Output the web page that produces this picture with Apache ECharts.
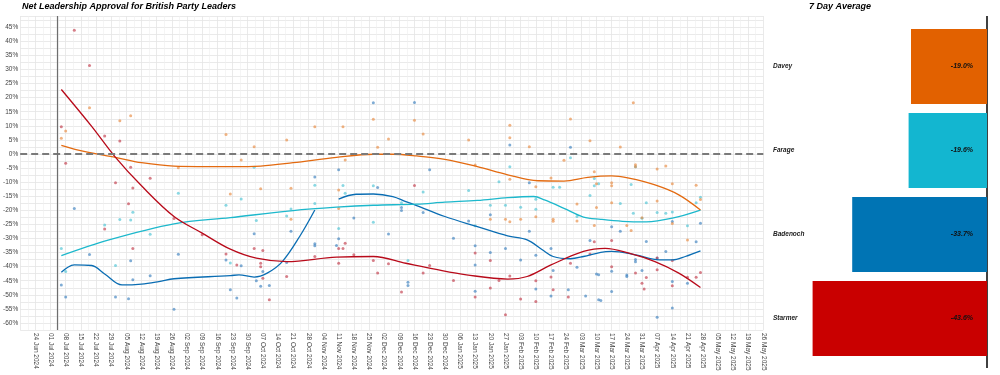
<!DOCTYPE html>
<html>
<head>
<meta charset="utf-8">
<script src="https://cdn.jsdelivr.net/npm/echarts@6/dist/echarts.min.js"></script>
<style>
html,body{margin:0;padding:0;background:#fff;}
#chart{width:1000px;height:375px;}
</style>
</head>
<body>
<div id="chart"></div>
<script>
// ---------------- DATA ----------------
const leaders = ['Davey', 'Farage', 'Badenoch', 'Starmer'];
const sevenDayAverage = [-19.0, -19.6, -33.7, -43.6];

const starmerPolls = [
['2024-07-06',9.7],['2024-07-08',-3.3],['2024-07-12',43.9],['2024-07-19',31.4],['2024-07-26',6.4],['2024-07-26',-26.6],
['2024-07-31',-10.2],['2024-08-02',4.6],['2024-08-06',-17.7],['2024-08-07',-4.7],['2024-08-08',-12.1],['2024-08-08',-33.6],
['2024-08-16',-8.6],['2024-08-27',-22.9],['2024-09-09',-28.7],['2024-09-20',-35.5],['2024-09-25',-39.4],['2024-10-03',-33.6],
['2024-10-07',-34.3],['2024-10-06',-38.8],['2024-10-06',-40.0],['2024-10-07',-44.1],['2024-10-10',-51.8],['2024-10-18',-43.5],
['2024-10-31',-36.4],['2024-11-11',-33.6],['2024-11-13',-33.6],['2024-11-14',-31.7],['2024-11-11',-38.8],['2024-11-18',-35.8],
['2024-11-27',-37.8],['2024-11-29',-42.3],['2024-12-04',-39.0],['2024-12-10',-49.0],['2024-12-16',-11.2],['2024-12-20',-42.3],
['2024-12-23',-39.6],['2025-01-03',-44.9],['2025-01-13',-35.2],['2025-01-13',-50.8],['2025-01-20',-37.8],['2025-01-20',-47.6],
['2025-01-24',-44.9],['2025-01-27',-57.1],['2025-01-29',-43.3],['2025-02-03',-51.5],['2025-02-10',-45.0],['2025-02-10',-52.4],
['2025-02-17',-43.7],['2025-02-18',-48.2],['2025-02-25',-50.8],['2025-02-26',-38.8],['2025-03-07',-35.5],['2025-03-09',-31.2],
['2025-03-17',-30.7],['2025-03-17',-40.0],['2025-03-28',-42.3],['2025-03-31',-45.9],['2025-04-01',-47.9],['2025-04-02',-43.9],
['2025-04-07',-36.9],['2025-04-07',-41.1],['2025-04-14',-37.8],['2025-04-14',-46.8],['2025-04-21',-43.8],['2025-04-25',-43.8],
['2025-04-27',-42.1]
];

const daveyPolls = [
['2024-07-06',5.6],['2024-07-08',8.2],['2024-07-19',16.4],['2024-08-02',11.8],['2024-08-07',13.6],['2024-08-29',-4.9],
['2024-09-20',6.9],['2024-09-22',-14.2],['2024-09-27',-2.1],['2024-10-03',2.6],['2024-10-06',-12.3],['2024-10-18',5.0],
['2024-10-20',-12.2],['2024-10-20',-23.2],['2024-10-31',9.7],['2024-11-11',-12.8],['2024-11-11',-19.4],['2024-11-13',9.7],
['2024-11-14',-2.1],['2024-11-27',12.3],['2024-11-29',2.4],['2024-12-04',5.3],['2024-12-16',12.0],['2024-12-20',7.1],
['2025-01-10',5.0],['2025-01-13',-3.9],['2025-01-20',-23.2],['2025-01-27',-23.2],['2025-01-29',10.2],['2025-01-29',5.8],
['2025-01-29',-9.0],['2025-01-29',-24.1],['2025-02-03',-23.2],['2025-02-07',2.6],['2025-02-10',-11.6],['2025-02-10',-22.3],
['2025-02-17',-8.5],['2025-02-18',-23.2],['2025-02-18',-23.9],['2025-02-23',-2.2],['2025-02-26',12.4],['2025-03-01',-17.8],
['2025-03-01',-23.8],['2025-03-07',4.7],['2025-03-09',-6.3],['2025-03-09',-25.4],['2025-03-10',-10.6],['2025-03-10',-19.0],
['2025-03-17',-10.2],['2025-03-17',-11.3],['2025-03-17',-17.3],['2025-03-21',2.5],['2025-03-24',-25.4],['2025-03-26',-27.2],
['2025-03-27',18.2],['2025-03-28',-4.5],['2025-03-28',-3.8],['2025-03-31',-22.6],['2025-04-07',-5.3],['2025-04-07',-16.7],
['2025-04-11',-4.3],['2025-04-14',-10.6],['2025-04-14',-24.7],['2025-04-21',-30.5],['2025-04-25',-11.1],['2025-04-27',-16.2]
];

const faragePolls = [
['2024-07-06',-33.6],['2024-07-08',-41.7],['2024-07-26',-25.2],['2024-07-31',-39.6],['2024-08-02',-23.3],['2024-08-07',-23.4],
['2024-08-08',-20.7],['2024-08-16',-28.5],['2024-08-29',-13.9],['2024-09-20',-18.2],['2024-09-22',-38.7],['2024-09-27',-16.0],
['2024-10-03',-4.7],['2024-10-04',-23.6],['2024-10-18',-22.0],['2024-10-20',-19.5],['2024-10-31',-11.1],['2024-10-31',-17.6],
['2024-11-11',-26.5],['2024-11-13',-11.2],['2024-11-14',-13.9],['2024-11-27',-11.3],['2024-11-27',-24.2],['2024-12-10',-17.3],
['2024-12-13',-37.8],['2024-12-20',-13.5],['2025-01-10',-13.0],['2025-01-13',-25.5],['2025-01-20',-18.2],['2025-01-24',-9.9],
['2025-01-27',-18.2],['2025-01-29',-4.5],['2025-02-03',-18.9],['2025-02-10',-16.1],['2025-02-10',-19.6],['2025-02-18',-11.8],
['2025-02-21',-11.8],['2025-02-26',-1.3],['2025-03-01',-22.2],['2025-03-07',-14.7],['2025-03-09',-8.7],['2025-03-09',-11.3],
['2025-03-11',-10.6],['2025-03-21',-17.6],['2025-03-26',-10.8],['2025-03-27',-21.0],['2025-03-28',-4.5],['2025-03-31',-22.8],
['2025-04-02',-17.3],['2025-04-07',-20.8],['2025-04-11',-21.0],['2025-04-14',-20.6],['2025-04-21',-25.5],['2025-04-25',-17.3],
['2025-04-27',-15.4]
];

const badenochPolls = [
['2024-07-06',-46.5],['2024-07-08',-50.8],['2024-07-12',-19.4],['2024-07-19',-35.7],['2024-07-31',-50.8],['2024-08-06',-51.4],
['2024-08-07',-37.9],['2024-08-08',-44.7],['2024-08-16',-43.2],['2024-08-27',-55.1],['2024-08-29',-35.6],['2024-09-20',-37.6],
['2024-09-22',-48.2],['2024-09-25',-51.1],['2024-09-27',-39.7],['2024-10-03',-28.3],['2024-10-04',-45.0],['2024-10-06',-47.0],
['2024-10-07',-41.7],['2024-10-10',-46.7],['2024-10-18',-38.5],['2024-10-20',-27.4],['2024-10-31',-8.2],['2024-10-31',-31.9],
['2024-10-31',-32.6],['2024-11-10',-32.5],['2024-11-11',-5.6],['2024-11-11',-30.1],['2024-11-18',-22.7],['2024-11-27',18.2],
['2024-11-29',-11.9],['2024-12-04',-28.4],['2024-12-10',-19.0],['2024-12-10',-20.1],['2024-12-13',-45.5],['2024-12-13',-46.7],
['2024-12-16',18.3],['2024-12-20',-20.8],['2024-12-23',-5.6],['2025-01-03',-29.9],['2025-01-10',-23.8],['2025-01-13',-32.6],
['2025-01-13',-39.4],['2025-01-13',-48.7],['2025-01-20',-21.6],['2025-01-20',-35.0],['2025-01-27',-33.6],['2025-01-29',3.2],
['2025-02-03',-37.6],['2025-02-07',-10.2],['2025-02-07',-27.4],['2025-02-10',-36.0],['2025-02-10',-47.9],['2025-02-17',-33.6],
['2025-02-17',-50.4],['2025-02-18',-41.4],['2025-02-25',-48.2],['2025-02-26',2.4],['2025-03-01',-40.2],['2025-03-05',-50.4],
['2025-03-07',-30.7],['2025-03-10',-42.6],['2025-03-11',-42.9],['2025-03-11',-51.8],['2025-03-12',-52.0],['2025-03-17',-25.8],
['2025-03-17',-41.6],['2025-03-17',-48.8],['2025-03-21',-27.4],['2025-03-24',-43.0],['2025-03-24',-43.5],['2025-03-28',-38.3],
['2025-03-28',-37.5],['2025-03-31',-41.4],['2025-04-02',-31.1],['2025-04-07',-36.9],['2025-04-07',-58.0],['2025-04-11',-34.6],
['2025-04-14',-24.0],['2025-04-14',-45.3],['2025-04-14',-54.7],['2025-04-21',-45.9],['2025-04-25',-31.2],['2025-04-27',-24.6]
];

const starmerTrend = [
['2024-07-06',22.9],['2024-07-20',9.8],['2024-07-31',-1.2],['2024-08-12',-11.3],['2024-08-27',-22.2],['2024-09-09',-28.1],
['2024-09-22',-33.8],['2024-10-04',-37.0],['2024-10-18',-38.2],['2024-11-10',-36.6],['2024-11-27',-36.4],['2024-12-12',-38.8],
['2024-12-26',-41.0],['2025-01-09',-42.9],['2025-01-28',-44.4],['2025-02-06',-43.5],['2025-02-17',-39.4],['2025-03-04',-34.6],
['2025-03-14',-33.5],['2025-03-25',-35.2],['2025-04-06',-38.2],['2025-04-17',-42.3],['2025-04-27',-47.4]
];
const daveyTrend = [
['2024-07-06',3.1],['2024-07-17',0.8],['2024-07-31',-1.2],['2024-08-12',-3.1],['2024-08-27',-4.3],['2024-09-22',-4.5],
['2024-10-06',-4.3],['2024-10-21',-3.1],['2024-11-10',-1.2],['2024-11-27',-0.1],['2024-12-06',-0.1],['2024-12-17',-0.7],
['2024-12-30',-1.9],['2025-01-14',-4.5],['2025-01-28',-7.4],['2025-02-11',-9.5],['2025-02-23',-9.6],['2025-03-06',-8.3],
['2025-03-17',-7.8],['2025-03-25',-8.6],['2025-04-06',-11.0],['2025-04-17',-14.5],['2025-04-27',-19.9]
];
const farageTrend = [
['2024-07-06',-36.1],['2024-07-28',-30.5],['2024-08-27',-24.8],['2024-09-22',-22.6],['2024-10-21',-20.1],['2024-11-10',-18.9],
['2024-11-27',-18.2],['2024-12-17',-17.8],['2024-12-30',-17.1],['2025-01-14',-16.5],['2025-01-28',-15.5],['2025-02-09',-15.1],
['2025-02-14',-16.3],['2025-02-23',-19.3],['2025-03-04',-22.4],['2025-03-12',-23.2],['2025-03-22',-23.9],['2025-04-02',-24.1],
['2025-04-14',-22.8],['2025-04-27',-19.9]
];
const badenochTrend = [
['2024-07-06',-42.0],['2024-07-09',-40.2],['2024-07-12',-39.4],['2024-07-20',-39.6],['2024-07-26',-42.6],['2024-08-03',-46.5],
['2024-08-12',-46.2],['2024-08-20',-45.3],['2024-08-27',-44.3],['2024-09-22',-43.2],['2024-09-26',-42.9],['2024-10-03',-43.7],
['2024-10-09',-42.3],['2024-10-16',-38.2],['2024-10-24',-29.3],['2024-10-31',-19.9],['2024-11-05',null],
['2024-11-11',-16.0],['2024-11-19',-14.3],['2024-11-27',-14.2],['2024-12-06',-15.1],['2024-12-12',-16.9],['2024-12-17',-18.3],
['2024-12-30',-22.2],['2025-01-14',-25.8],['2025-01-28',-29.1],['2025-02-06',-30.5],['2025-02-13',-34.0],['2025-02-18',-36.4],
['2025-02-26',-37.2],['2025-03-04',-36.4],['2025-03-12',-34.9],['2025-03-17',-34.6],['2025-03-28',-35.8],['2025-04-08',-37.6],
['2025-04-14',-37.6],['2025-04-20',-36.4],['2025-04-27',-34.4]
];

const electionDate = '2024-07-04';
const axisStart = '2024-06-17';
const axisEnd = '2025-05-26';
const monthNames = ['Jan','Feb','Mar','Apr','May','Jun','Jul','Aug','Sep','Oct','Nov','Dec'];

// ---------------- HELPERS ----------------
const DAY = 86400000;
const startMs = Date.parse(axisStart + 'T00:00:00Z');
function dayIdx(s) { return (Date.parse(s + 'T00:00:00Z') - startMs) / DAY; }
function toXY(arr) { return arr.map(p => [dayIdx(p[0]), p[1] === null ? '-' : p[1]]); }
function fmtDay(v) {
  const d = new Date(startMs + v * DAY);
  return String(d.getUTCDate()).padStart(2, '0') + ' ' + monthNames[d.getUTCMonth()] + ' ' + d.getUTCFullYear();
}

const colors = {
  Starmer: '#B80A1A',
  Davey: '#E36A10',
  Farage: '#1DB8CC',
  Badenoch: '#0A6DB3'
};
const barColors = ['#E26100', '#13B6D0', '#0074B4', '#C90000'];
const dotColors = {
  Starmer: '#C23B4A',
  Davey: '#E88A40',
  Farage: '#4CC3D4',
  Badenoch: '#3A7FBF'
};

const FONT = '"Liberation Sans", Arial, sans-serif';

function scatter(name, data, extra) {
  return Object.assign({
    type: 'scatter', name: name, xAxisIndex: 0, yAxisIndex: 0,
    data: toXY(data), symbolSize: 3, silent: true,
    itemStyle: { color: dotColors[name], opacity: 0.65 }, z: 2
  }, extra || {});
}
function trend(name, data) {
  return {
    type: 'line', name: name + ' trend', xAxisIndex: 0, yAxisIndex: 0,
    data: toXY(data), smooth: 0.35, showSymbol: false, connectNulls: false,
    lineStyle: { color: colors[name], width: 1.3 }, silent: true, z: 4
  };
}

const chart = echarts.init(document.getElementById('chart'), null, { renderer: 'canvas' });

const option = {
  animation: false,
  backgroundColor: '#ffffff',
  textStyle: { fontFamily: FONT },
  title: [
    { text: 'Net Leadership Approval for British Party Leaders', left: 22, top: 2, padding: 0,
      textStyle: { fontFamily: FONT, fontSize: 9, fontWeight: 'bold', fontStyle: 'italic', color: '#000' } },
    { text: '7 Day Average', left: 809, top: 2, padding: 0,
      textStyle: { fontFamily: FONT, fontSize: 9, fontWeight: 'bold', fontStyle: 'italic', color: '#000' } }
  ],
  grid: [
    { left: 18.1, right: 236.7, top: 16, bottom: 45 },
    { left: 807, right: 13, top: 24.5, bottom: 14.5 }
  ],
  xAxis: [
    {
      gridIndex: 0, type: 'value', min: 0, max: dayIdx(axisEnd), interval: 7,
      axisLine: { show: false }, axisTick: { show: false },
      splitLine: { show: true, lineStyle: { color: '#e4e4e4', width: 0.8 } },
      minorTick: { show: false, splitNumber: 2 },
      minorSplitLine: { show: true, lineStyle: { color: '#eeeeee', width: 0.6 } },
      axisLabel: {
        rotate: -90, fontSize: 6.5, color: '#444', margin: 3, showMinLabel: false,
        fontFamily: FONT, formatter: fmtDay
      }
    },
    {
      gridIndex: 1, type: 'value', min: -45, max: 0,
      show: false
    }
  ],
  yAxis: [
    {
      gridIndex: 0, type: 'value', min: -62.5, max: 49, interval: 2.5,
      axisLine: { show: false }, axisTick: { show: false },
      splitLine: { show: true, lineStyle: { color: '#e4e4e4', width: 0.8 } },
      axisLabel: {
        fontSize: 6.5, color: '#444', margin: 2, fontFamily: FONT,
        formatter: v => (Math.abs(v % 5) < 1e-6 ? v + '%' : '')
      }
    },
    {
      gridIndex: 1, type: 'category', data: leaders, inverse: true,
      axisLine: { show: false, onZero: false }, axisTick: { show: false },
      splitLine: { show: false },
      axisLabel: {
        align: 'left', margin: 34, fontSize: 6.5, fontWeight: 'bold', fontStyle: 'italic',
        color: '#222', fontFamily: FONT
      }
    }
  ],
  series: [
    scatter('Badenoch', badenochPolls, {
      markLine: {
        silent: true, symbol: 'none', animation: false,
        label: { show: false },
        data: [
          { yAxis: 0, lineStyle: { color: '#7a7a7a', width: 1.8, type: [7, 4] } },
          { xAxis: dayIdx(electionDate), lineStyle: { color: '#6e6e6e', width: 1.2, type: 'solid' } }
        ]
      }
    }),
    scatter('Farage', faragePolls),
    scatter('Davey', daveyPolls),
    scatter('Starmer', starmerPolls),
    trend('Badenoch', badenochTrend),
    trend('Farage', farageTrend),
    trend('Davey', daveyTrend),
    trend('Starmer', starmerTrend),
    {
      type: 'bar', xAxisIndex: 1, yAxisIndex: 1, silent: true,
      barCategoryGap: '11%',
      data: sevenDayAverage.map((v, i) => ({ value: v, itemStyle: { color: barColors[i] } })),
      label: {
        show: true, position: 'insideRight', distance: 14,
        fontSize: 7, fontWeight: 'bold', fontStyle: 'italic', color: '#111', fontFamily: FONT,
        formatter: p => p.value.toFixed(1) + '%'
      }
    }
  ]
};

chart.setOption(option);

// vertical axis line for the 7-day average panel (at zero), slightly taller than the bars' grid
const zeroX = chart.convertToPixel({ xAxisIndex: 1 }, 0);
chart.setOption({
  graphic: [{
    type: 'line', silent: true,
    shape: { x1: zeroX, y1: 16, x2: zeroX, y2: 368 },
    style: { stroke: '#000', lineWidth: 1.5 }
  }]
});
</script>
</body>
</html>
